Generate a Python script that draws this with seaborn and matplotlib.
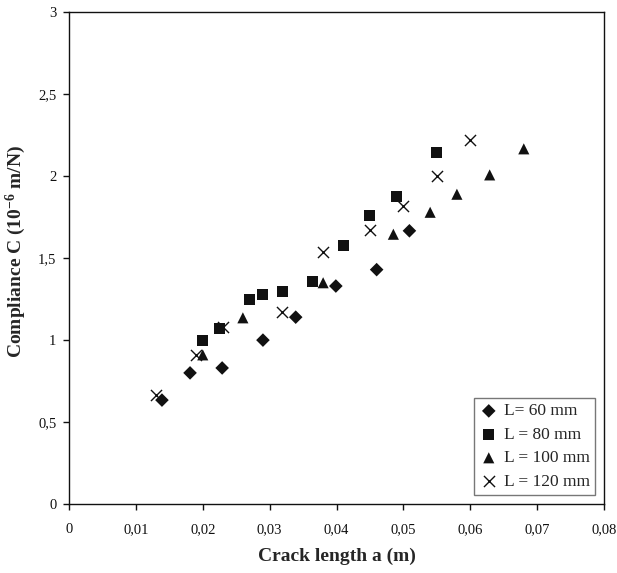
import matplotlib
matplotlib.use("Agg")
import matplotlib.pyplot as plt
import seaborn as sns
import pandas as pd
from matplotlib.ticker import FuncFormatter

# Data
a_60 = [0.0139, 0.0181, 0.0229, 0.0290, 0.0339, 0.0399, 0.0460, 0.0509]
c_60 = [0.634, 0.80, 0.83, 1.00, 1.14, 1.33, 1.43, 1.667]

a_80 = [0.0200, 0.0225, 0.0270, 0.0290, 0.0319, 0.0364, 0.0410, 0.0449, 0.0490, 0.0550]
c_80 = [1.00, 1.07, 1.248, 1.276, 1.299, 1.36, 1.575, 1.762, 1.874, 2.142]

a_100 = [0.0200, 0.0260, 0.0380, 0.0485, 0.0540, 0.0580, 0.0629, 0.0680]
c_100 = [0.91, 1.136, 1.35, 1.646, 1.78, 1.89, 2.008, 2.167]

a_120 = [0.0130, 0.0190, 0.0230, 0.0319, 0.0380, 0.0450, 0.0500, 0.0550, 0.0600]
c_120 = [0.663, 0.907, 1.08, 1.173, 1.535, 1.671, 1.817, 2.00, 2.22]

series_labels = ["L= 60 mm", "L = 80 mm", "L = 100 mm", "L = 120 mm"]
x_ticks = [0, 0.01, 0.02, 0.03, 0.04, 0.05, 0.06, 0.07, 0.08]
y_ticks = [0, 0.5, 1, 1.5, 2, 2.5, 3]

frames = []
for lab, xs, ys in zip(series_labels, [a_60, a_80, a_100, a_120], [c_60, c_80, c_100, c_120]):
    frames.append(pd.DataFrame({"a": xs, "C": ys, "L": lab}))
df = pd.concat(frames, ignore_index=True)

sns.set_style("ticks")
plt.rcParams["font.family"] = ["Liberation Serif", "DejaVu Serif"]
plt.rcParams["mathtext.fontset"] = "custom"
plt.rcParams["mathtext.rm"] = "Liberation Serif"
plt.rcParams["mathtext.bf"] = "Liberation Serif:bold"
plt.rcParams["mathtext.it"] = "Liberation Serif:italic"

fig = plt.figure(figsize=(6.17, 5.73), dpi=100)
ax = fig.add_axes([0.1118, 0.1204, 0.979 - 0.1118, 0.9785 - 0.1204])

markers = {series_labels[0]: "D", series_labels[1]: "s", series_labels[2]: "^", series_labels[3]: "x"}
sizes = {series_labels[0]: 48, series_labels[1]: 64, series_labels[2]: 64, series_labels[3]: 64}

for lab in series_labels:
    sub = df[df["L"] == lab]
    m = markers[lab]
    kw = dict(linewidth=1.0) if m == "x" else dict(edgecolor="none")
    sns.scatterplot(data=sub, x="a", y="C", marker=m, color="#111111", s=sizes[lab],
                    ax=ax, label=lab, **kw)

ax.set_xlim(0, 0.08)
ax.set_ylim(0, 3)
ax.set_xticks(x_ticks)
ax.set_yticks(y_ticks)

def comma(v, pos):
    return ("%g" % v).replace(".", ",")

ax.xaxis.set_major_formatter(FuncFormatter(comma))
ax.yaxis.set_major_formatter(FuncFormatter(comma))
ax.tick_params(axis="both", direction="out", length=4, width=1, labelsize=10.5, colors="#111111")
ax.tick_params(axis="x", pad=10)
ax.tick_params(axis="y", pad=5)

for sp in ax.spines.values():
    sp.set_color("#111111")
    sp.set_linewidth(1.0)
    sp.set_visible(True)

ax.set_xlabel("Crack length a (m)", fontsize=14, fontweight="bold", labelpad=8)
ax.set_ylabel("Compliance C (10$^{\\mathbf{-6}}$ m/N)", fontsize=14, fontweight="bold")
ax.yaxis.set_label_coords(-0.077, 0.514)

leg = ax.legend(loc="lower right", bbox_to_anchor=(0.9826, 0.0183), borderaxespad=0,
                frameon=True, fancybox=False, fontsize=12.5, handletextpad=0.3,
                handlelength=1.1, labelspacing=0.42, borderpad=0.3)
leg.get_frame().set_edgecolor("#555555")
leg.get_frame().set_linewidth(1.0)

fig.savefig("out.png", dpi=100)
